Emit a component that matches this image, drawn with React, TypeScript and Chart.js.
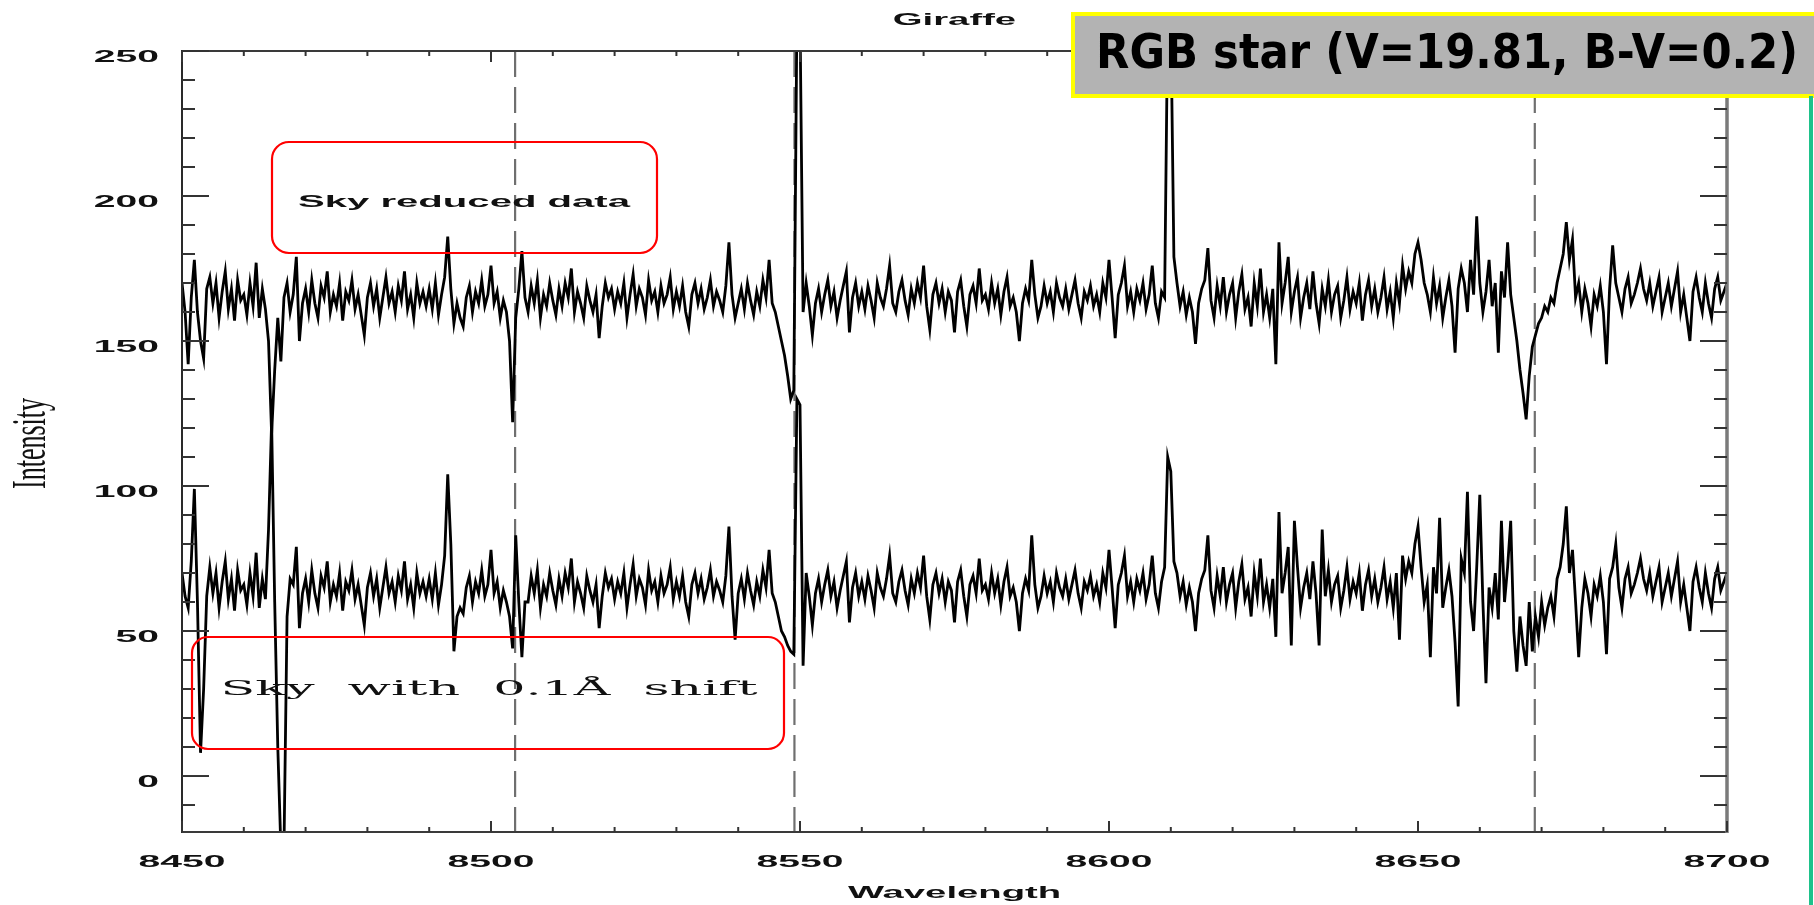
import React, { useEffect, useRef } from "react";
import { Chart, registerables } from "chart.js";

Chart.register(...registerables);

// ---- data ----
const WL_START = 8450;
const WL_STEP = 0.5;

// upper spectrum: "Sky reduced data"
const SKY_REDUCED = [
  170, 160, 142, 165, 178, 160, 150, 144, 168, 172, 163, 170, 158, 167, 174, 161, 168, 157, 171, 164,
  166, 159, 170, 162, 177, 158, 168, 161, 150, 118, 140, 158, 143, 165, 170, 160, 166, 179, 150, 163,
  168, 160, 171, 163, 158, 169, 165, 174, 160, 166, 162, 170, 157, 167, 164, 171, 161, 166, 159, 152,
  165, 170, 162, 168, 158, 165, 172, 163, 167, 160, 169, 164, 174, 161, 166, 158, 170, 163, 167, 162,
  168, 161, 170, 159, 166, 172, 186, 168, 156, 163, 158, 155, 165, 169, 160, 167, 163, 171, 162, 166,
  176, 163, 167, 158, 164, 160, 150, 122, 158, 168, 181, 165, 160, 169, 163, 171, 158, 166, 162, 170,
  164, 159, 168, 162, 170, 165, 175, 160, 167, 163, 158, 169, 164, 160, 166, 151, 162, 170, 165, 168,
  161, 167, 163, 170, 158, 166, 173, 162, 168, 165, 159, 171, 164, 167, 160, 169, 163, 166, 172, 161,
  167, 162, 169, 160, 155, 166, 170, 163, 168, 161, 165, 171, 162, 167, 164, 160, 169, 184, 166, 158,
  163, 168, 161, 170, 164, 159, 167, 162, 171, 165, 178, 163, 160, 155, 150, 145, 138, 130, 133, 262,
  262, 160, 170, 162, 152, 163, 168, 160, 166, 171, 162, 167, 158, 164, 169, 174, 153, 165, 170, 162,
  167, 161, 169, 164, 158, 170, 165, 162, 168, 176, 163, 160, 167, 171, 164, 159, 168, 163, 170, 165,
  176, 162, 154, 166, 170, 163, 168, 160, 167, 164, 153, 167, 171, 162, 155, 166, 169, 163, 175, 164,
  166, 161, 170, 163, 168, 159, 167, 172, 162, 165, 160, 150, 163, 168, 164, 178, 166, 158, 162, 169,
  163, 167, 160, 170, 165, 162, 168, 161, 166, 171, 163, 158, 167, 164, 169, 162, 166, 160, 170, 165,
  178, 165, 151, 166, 170, 176, 162, 167, 160, 168, 164, 170, 161, 166, 176, 163, 158, 167, 165, 262,
  262, 179, 170, 162, 167, 159, 165, 160, 149, 163, 168, 171, 182, 164, 158, 169, 162, 172, 160, 166,
  170, 158, 167, 173, 161, 165, 155, 170, 162, 175, 160, 166, 158, 168, 142, 184, 163, 170, 179, 160,
  167, 172, 158, 165, 170, 161, 174, 163, 156, 168, 162, 171, 160, 166, 169, 158, 164, 172, 161, 167,
  163, 170, 157, 166, 171, 162, 168, 160, 165, 172, 161, 167, 158, 170, 163, 176, 168, 174, 170, 180,
  184, 178, 170, 166, 160, 172, 163, 169, 158, 165, 171, 162, 146, 168, 175, 170, 160, 178, 166, 193,
  170, 160, 167, 178, 162, 170, 146, 174, 165, 184, 166, 158, 150, 140, 132, 123, 138, 148, 152, 156,
  158, 162, 160, 165, 163, 170, 175, 180, 191, 178, 185, 165, 170, 160, 168, 163, 155, 166, 162, 169,
  160, 142, 168, 183, 170, 165, 160, 168, 172, 163, 166, 170, 175, 168, 164, 170, 162, 167, 172, 160,
  165, 170, 162, 168, 174, 160, 166, 158, 150, 167, 172, 165, 160, 170, 163, 158, 168, 172, 164, 167, 170,
];

// lower spectrum: "Sky with 0.1Å shift"
const SKY_SHIFTED = [
  70, 62, 58, 74, 99, 60, 8, 30, 62, 72, 63, 70, 58, 67, 74, 61, 68, 57, 71, 64,
  66, 59, 70, 62, 77, 58, 68, 61, 85, 122, 60, 10, -25, -25, 55, 68, 66, 79, 51, 63,
  68, 60, 71, 63, 58, 69, 65, 74, 60, 66, 62, 70, 57, 67, 64, 71, 61, 66, 59, 52,
  65, 70, 62, 68, 58, 65, 72, 63, 67, 60, 69, 64, 74, 61, 66, 58, 70, 63, 67, 62,
  68, 61, 70, 59, 66, 76, 104, 80, 43, 55, 58, 56, 65, 69, 60, 67, 63, 71, 62, 66,
  78, 63, 67, 58, 64, 60, 55, 44, 83, 60, 41, 60, 60, 69, 63, 71, 58, 66, 62, 70,
  64, 59, 68, 62, 70, 65, 75, 60, 67, 63, 58, 69, 64, 60, 66, 51, 62, 70, 65, 68,
  61, 67, 63, 70, 58, 66, 73, 62, 68, 65, 59, 71, 64, 67, 60, 69, 63, 66, 72, 61,
  67, 62, 69, 60, 55, 66, 70, 63, 68, 61, 65, 71, 62, 67, 64, 60, 69, 86, 62, 47,
  63, 68, 61, 70, 64, 59, 67, 62, 71, 65, 78, 63, 60, 55, 50, 48, 45, 43, 42, 130,
  128, 38, 70, 62, 52, 63, 68, 60, 66, 71, 62, 67, 58, 64, 69, 74, 53, 65, 70, 62,
  67, 61, 69, 64, 58, 70, 65, 62, 68, 76, 63, 60, 67, 71, 64, 59, 68, 63, 70, 65,
  76, 62, 54, 66, 70, 63, 68, 60, 67, 64, 53, 67, 71, 62, 55, 66, 69, 63, 75, 64,
  66, 61, 70, 63, 68, 59, 67, 72, 62, 65, 60, 50, 63, 68, 64, 83, 66, 58, 62, 69,
  63, 67, 60, 70, 65, 62, 68, 61, 66, 71, 63, 58, 67, 64, 69, 62, 66, 60, 70, 65,
  78, 65, 51, 66, 70, 76, 62, 67, 60, 68, 64, 70, 61, 66, 76, 63, 58, 67, 72, 110,
  105, 74, 70, 62, 67, 59, 65, 60, 50, 63, 68, 71, 83, 64, 58, 69, 62, 72, 60, 66,
  70, 58, 67, 73, 61, 65, 55, 70, 62, 75, 60, 66, 58, 68, 48, 91, 63, 70, 79, 45,
  88, 72, 58, 65, 70, 61, 74, 63, 45, 85, 62, 71, 60, 66, 69, 58, 64, 72, 61, 67,
  63, 70, 57, 66, 71, 62, 68, 60, 65, 72, 61, 67, 58, 70, 47, 76, 68, 74, 70, 80,
  86, 72, 60, 66, 41, 72, 63, 89, 58, 65, 71, 62, 46, 24, 75, 70, 98, 60, 50, 72,
  97, 60, 32, 65, 58, 70, 54, 88, 60, 72, 88, 50, 36, 55, 45, 38, 60, 43, 55, 48,
  60, 52, 58, 62, 55, 68, 72, 80, 93, 70, 78, 60, 41, 58, 68, 63, 55, 66, 62, 69,
  60, 42, 68, 72, 80, 65, 58, 68, 72, 63, 66, 70, 75, 68, 64, 70, 62, 67, 72, 60,
  65, 70, 62, 68, 74, 60, 66, 58, 50, 67, 72, 65, 60, 70, 63, 58, 68, 72, 64, 67, 70,
];

const X_MIN = 8450;
const X_MAX = 8700;
const Y_MIN = -19.3;
const Y_MAX = 250;
const X_TICKS = [8450, 8500, 8550, 8600, 8650, 8700];
const Y_TICKS = [0, 50, 100, 150, 200, 250];
const X_MINOR_STEP = 10;
const Y_MINOR_STEP = 10;
// Ca II triplet positions marked with dashed lines
const CA_LINES = [8503.9, 8549.1, 8668.9];

const TITLE = "Giraffe";
const X_TITLE = "Wavelength";
const Y_TITLE = "Intensity";
const LABEL_REDUCED = "Sky reduced data";
const LABEL_SHIFTED = "Sky with 0.1Å shift";
const STAR_LABEL = "RGB star (V=19.81, B-V=0.2)";

// ---- drawing helpers ----
function stretchedText(
  ctx: CanvasRenderingContext2D,
  text: string,
  x: number,
  y: number,
  font: string,
  sx: number,
  align: CanvasTextAlign = "center",
  color = "#111"
) {
  ctx.save();
  ctx.font = font;
  ctx.fillStyle = color;
  ctx.textAlign = align;
  ctx.textBaseline = "middle";
  ctx.translate(x, y);
  ctx.scale(sx, 1);
  ctx.fillText(text, 0, 0);
  ctx.restore();
}

function fitText(
  ctx: CanvasRenderingContext2D,
  text: string,
  cx: number,
  y: number,
  font: string,
  width: number,
  color = "#111",
  baseline: CanvasTextBaseline = "middle",
  wordSpacing = "0px"
) {
  ctx.save();
  ctx.font = font;
  (ctx as any).wordSpacing = wordSpacing;
  const w = ctx.measureText(text).width;
  ctx.fillStyle = color;
  ctx.textAlign = "center";
  ctx.textBaseline = baseline;
  ctx.translate(cx, y);
  ctx.scale(width / w, 1);
  ctx.fillText(text, 0, 0);
  ctx.restore();
}

function seg(ctx: CanvasRenderingContext2D, x1: number, y1: number, x2: number, y2: number) {
  ctx.beginPath();
  ctx.moveTo(x1, y1);
  ctx.lineTo(x2, y2);
  ctx.stroke();
}

const idlPlugin = {
  id: "idlFrame",
  beforeDatasetsDraw(chart: any) {
    const { ctx, chartArea: a, scales } = chart;
    const x = scales.x;
    ctx.save();
    ctx.strokeStyle = "#6f6f6f";
    ctx.lineWidth = 2.2;
    ctx.setLineDash([26, 10]);
    for (const w of CA_LINES) {
      const px = x.getPixelForValue(w);
      seg(ctx, px, a.top, px, a.bottom);
    }
    ctx.restore();
  },
  afterDatasetsDraw(chart: any) {
    const { ctx, chartArea: a, scales } = chart;
    const x = scales.x;
    const y = scales.y;
    ctx.save();
    ctx.lineCap = "butt";
    // frame
    ctx.strokeStyle = "#2a2a2a";
    ctx.lineWidth = 2;
    seg(ctx, a.left, a.top - 1, a.left, a.bottom + 1);
    ctx.strokeStyle = "#3a3a3a";
    seg(ctx, a.left, a.bottom, a.right, a.bottom);
    seg(ctx, a.left, a.top, a.right, a.top);
    ctx.strokeStyle = "#7a7a7a";
    ctx.lineWidth = 3.5;
    seg(ctx, a.right, a.top - 1, a.right, a.bottom + 1);

    // x ticks (inward, bottom and top)
    ctx.strokeStyle = "#333";
    ctx.lineWidth = 2;
    for (let v = X_MIN; v <= X_MAX; v += X_MINOR_STEP) {
      const px = x.getPixelForValue(v);
      const len = X_TICKS.includes(v) ? 11 : 5;
      seg(ctx, px, a.bottom, px, a.bottom - len);
      seg(ctx, px, a.top, px, a.top + len);
    }
    // y ticks (inward, left and right)
    for (let v = -10; v <= Y_MAX; v += Y_MINOR_STEP) {
      const py = y.getPixelForValue(v);
      const len = Y_TICKS.includes(v) ? 27 : 13;
      seg(ctx, a.left, py, a.left + len, py);
      seg(ctx, a.right, py, a.right - len, py);
    }

    // tick labels
    const axisFont = 'bold 17px "Liberation Sans", Arial, sans-serif';
    for (const v of X_TICKS) {
      stretchedText(ctx, String(v), x.getPixelForValue(v), a.bottom + 30, axisFont, 2.3);
    }
    for (const v of Y_TICKS) {
      stretchedText(ctx, String(v), a.left - 23, y.getPixelForValue(v) + 6, axisFont, 2.3, "right");
    }
    // titles
    const cx = (a.left + a.right) / 2;
    stretchedText(ctx, TITLE, cx, 20, axisFont, 2.25);
    stretchedText(ctx, X_TITLE, cx, a.bottom + 61, axisFont, 2.25);
    ctx.save();
    ctx.translate(32, (a.top + a.bottom) / 2 + 2);
    ctx.rotate(-Math.PI / 2);
    ctx.scale(1, 1.85);
    ctx.font = '26px "Liberation Serif", "Times New Roman", serif';
    ctx.fillStyle = "#111";
    ctx.textAlign = "center";
    ctx.textBaseline = "middle";
    ctx.fillText(Y_TITLE, 0, 0);
    ctx.restore();
    ctx.restore();
  },
  afterDraw(chart: any) {
    const { ctx } = chart;
    ctx.save();
    // red annotation boxes
    ctx.strokeStyle = "#ff0000";
    ctx.lineWidth = 2.2;
    ctx.beginPath();
    ctx.roundRect(272, 142, 385, 111, 17);
    ctx.stroke();
    fitText(ctx, LABEL_REDUCED, 464, 202, 'bold 17px "Liberation Sans", Arial, sans-serif', 332);

    ctx.beginPath();
    ctx.roundRect(192, 637, 592, 112, 16);
    ctx.stroke();
    fitText(ctx, LABEL_SHIFTED, 489, 690, '21px "DejaVu Serif", serif', 537, "#111", "middle", "7px");

    // star label box
    ctx.fillStyle = "#b3b3b3";
    ctx.fillRect(1073, 14, 760, 82);
    ctx.strokeStyle = "#ffff00";
    ctx.lineWidth = 4;
    ctx.strokeRect(1073, 14, 760, 82);
    fitText(ctx, STAR_LABEL, 1447, 68, 'bold 48px "DejaVu Sans", sans-serif', 702, "#000", "alphabetic");

    // green slide edge
    ctx.strokeStyle = "#1ec28b";
    ctx.lineWidth = 4;
    seg(ctx, 1811, 96, 1811, 905);
    ctx.restore();
  },
};

export default function App() {
  const canvasRef = useRef<HTMLCanvasElement | null>(null);

  useEffect(() => {
    const canvas = canvasRef.current;
    if (!canvas) return;
    const toPoints = (arr: number[]) => arr.map((v, i) => ({ x: WL_START + i * WL_STEP, y: v }));
    const chart = new Chart(canvas, {
      type: "line",
      data: {
        datasets: [
          {
            label: LABEL_REDUCED,
            data: toPoints(SKY_REDUCED),
            borderColor: "#000",
            borderWidth: 2.8,
            pointRadius: 0,
            tension: 0,
            fill: false,
          },
          {
            label: LABEL_SHIFTED,
            data: toPoints(SKY_SHIFTED),
            borderColor: "#000",
            borderWidth: 2.8,
            pointRadius: 0,
            tension: 0,
            fill: false,
          },
        ],
      },
      options: {
        animation: false,
        responsive: false,
        events: [],
        layout: { padding: { left: 182, right: 87, top: 51, bottom: 73 }, autoPadding: false },
        scales: {
          x: { type: "linear", min: X_MIN, max: X_MAX, display: false },
          y: { type: "linear", min: Y_MIN, max: Y_MAX, display: false },
        },
        plugins: { legend: { display: false }, tooltip: { enabled: false } },
      },
      plugins: [idlPlugin],
    });
    return () => chart.destroy();
  }, []);

  return (
    <div style={{ position: "fixed", left: 0, top: 0, width: 1814, height: 905, background: "#fff" }}>
      <canvas ref={canvasRef} width={1814} height={905} style={{ display: "block" }} />
    </div>
  );
}
